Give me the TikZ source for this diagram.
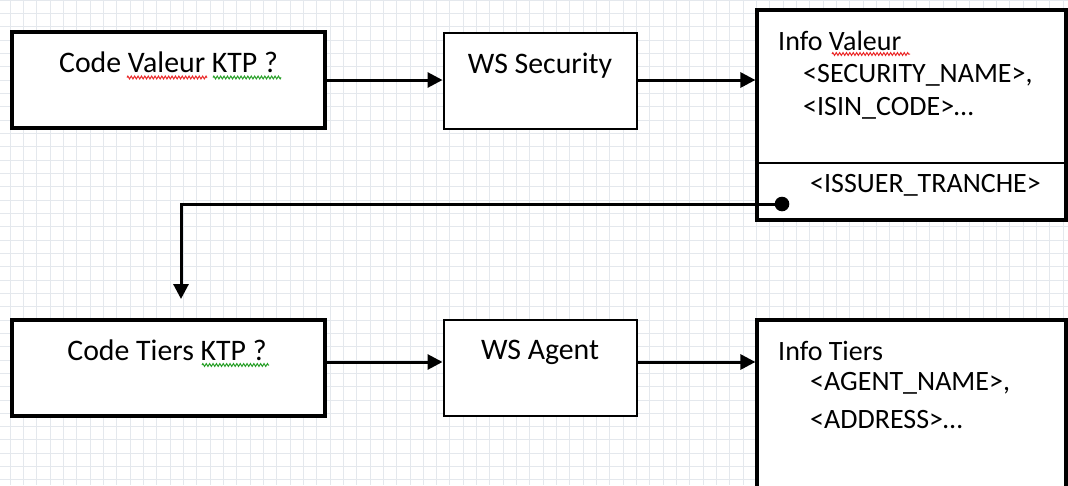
\documentclass[tikz,border=0pt]{standalone}
\usepackage{fontspec}
\setmainfont{Carlito}
\usetikzlibrary{arrows.meta,decorations.pathmorphing}
\definecolor{gridcol}{RGB}{228,232,237}
\definecolor{squigred}{RGB}{235,40,40}
\definecolor{squiggreen}{RGB}{40,160,40}
\begin{document}
\begin{tikzpicture}[x=1pt,y=-1pt,
  thickbox/.style={draw=black,line width=3.8pt,fill=white,inner sep=0pt,minimum width=313pt,minimum height=96pt},
  thinbox/.style={draw=black,line width=2pt,fill=white,inner sep=0pt,minimum width=193pt,minimum height=96pt},
  infobox/.style={draw=black,line width=3.2pt,fill=white,inner sep=0pt,minimum width=309pt},
  title/.style={inner sep=0pt,anchor=base,font=\fontsize{29.8}{34}\selectfont},
  info/.style={inner sep=0pt,anchor=base west,font=\fontsize{28}{34}\selectfont},
  conn/.style={draw=black,line width=3pt,-{Triangle[length=15pt,width=15pt]}},
  squig/.style={line width=1pt,decorate,decoration={zigzag,segment length=3.4pt,amplitude=1.4pt}},
  gridline/.style={draw=gridcol,line width=0.8pt}
]
\useasboundingbox (0,0) rectangle (1068,485);
\fill[white] (0,0) rectangle (1068,485);
\foreach \i in {0,...,80} \draw[gridline] ({10+13.33*\i},0) -- ++(0,485);
\foreach \j in {0,...,37} \draw[gridline] (0,{13.33*\j}) -- ++(1068,0);

% boxes
\node[thickbox] (cv) at (168.5,80) {};
\node[thinbox] (wss) at (540,81) {};
\node[infobox,minimum height=210pt] (iv) at (911.5,115) {};
\draw[line width=1.8pt] (iv.west |- 0,163) -- (iv.east |- 0,163);
\node[thickbox] (ct) at (168.5,368) {};
\node[thinbox] (wsa) at (540,367.5) {};
\node[infobox,minimum height=180pt] (it) at (911.5,410) {};

% texts
\node[title] (cvt) at (168.5,72) {Code Valeur KTP ?};
\node[title] (wsst) at (540,73) {WS Security};
\node[title] (ctt) at (167,360) {Code Tiers KTP ?};
\node[title] (wsat) at (540,359) {WS Agent};
\node[info] (iv1) at (778,50) {Info Valeur};
\node[info] (iv2) at (803,82) {<SECURITY\_NAME>,};
\node[info] (iv3) at (803,115) {<ISIN\_CODE>…};
\node[info] (iv4) at (810,192) {<ISSUER\_TRANCHE>};
\node[info] (it1) at (778,360) {Info Tiers};
\node[info] (it2) at (810,390) {<AGENT\_NAME>,};
\node[info] (it3) at (810,428) {<ADDRESS>…};

% spell-check squiggles
\draw[squig,squigred] (127,77.5) -- (207,77.5);
\draw[squig,squiggreen] (213,77.5) -- (281,77.5);
\draw[squig,squigred] (832,54) -- (910,54);
\draw[squig,squiggreen] (202,365) -- (269,365);

% connectors
\coordinate (r1) at (0,80);
\coordinate (r2) at (0,362);
\draw[conn] (cv.east |- r1) -- (wss.west |- r1);
\draw[conn] (wss.east |- r1) -- (iv.west |- r1);
\draw[conn] (ct.east |- r2) -- (wsa.west |- r2);
\draw[conn] (wsa.east |- r2) -- (it.west |- r2);
\coordinate (dot) at (782,204);
\coordinate (tip) at (181,299);
\fill (dot) circle (7.3pt);
\draw[conn] (dot) -| (tip);
\end{tikzpicture}
\end{document}
